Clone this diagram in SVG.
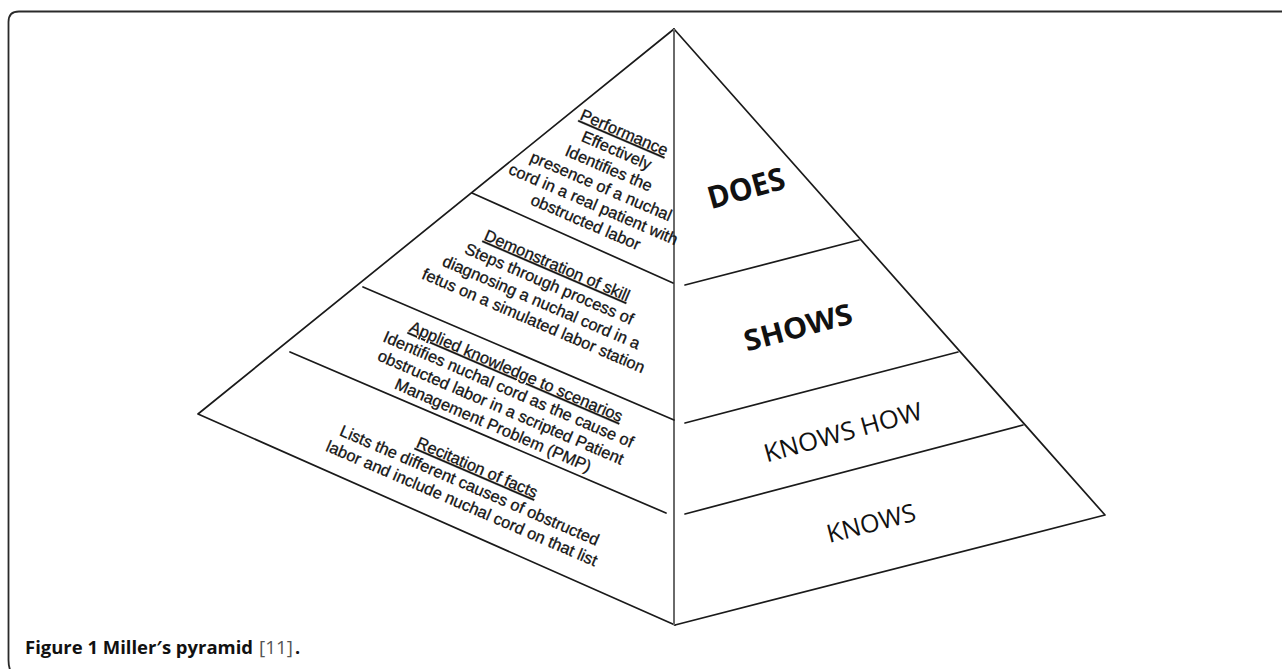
<svg xmlns="http://www.w3.org/2000/svg" width="1282" height="669" viewBox="0 0 1282 669">
<style>
.ln{fill:none;stroke:#1a1a1a;stroke-width:1.7;stroke-linecap:round;stroke-linejoin:round}
.mid{fill:none;stroke:#6a6a6a;stroke-width:2}
.frame{fill:none;stroke:#2a2a2a;stroke-width:1.8}
.lt{font-family:"Liberation Sans",Arial,sans-serif;font-size:16.4px;fill:#141414;stroke:#141414;stroke-width:0.3;text-anchor:middle}
.u{text-decoration:underline}
.rb{font-family:"Open Sans","Noto Sans",sans-serif;font-weight:bold;fill:#111;text-anchor:middle}
.rr{font-family:"Open Sans","Noto Sans",sans-serif;fill:#111;text-anchor:middle}
.cap{font-family:"Open Sans","Noto Sans",sans-serif;font-size:18px}
</style>
<rect width="1282" height="669" fill="#fff"/>
<path class="frame" d="M1290 11.5 H19 Q8.5 11.5 8.5 22 V660 Q8.5 667 11 672"/>

<g id="connectors">
  <path class="ln" d="M674 29 L198 414 L675 625"/>
  <path class="ln" d="M674 29 L1105 515 L675 625"/>
  <path class="mid" d="M674 29 V625"/>
  <path class="ln" d="M472 193 L673 283"/>
  <path class="ln" d="M363 287 L674 420"/>
  <path class="ln" d="M290 352 L666 513"/>
  <path class="ln" d="M685 285 L859 240"/>
  <path class="ln" d="M685 423 L958 352"/>
  <path class="ln" d="M685 514 L1023 425"/>
</g>

<g id="performance" transform="translate(624,133) rotate(23.3)">
  <text class="lt u" x="0" y="5">Performance</text>
  <text class="lt" x="0" y="24.5">Effectively</text>
  <text class="lt" x="0" y="44">Identifies the</text>
  <text class="lt" x="0" y="63.5">presence of a nuchal</text>
  <text class="lt" x="0" y="83">cord in a real patient with</text>
  <text class="lt" x="0" y="102.5">obstructed labor</text>
</g>

<g id="demonstration" transform="translate(557,266) rotate(23.3)">
  <text class="lt u" x="0" y="5">Demonstration of skill</text>
  <text class="lt" x="0" y="25">Steps through process of</text>
  <text class="lt" x="0" y="45">diagnosing a nuchal cord in a</text>
  <text class="lt" x="0" y="65">fetus on a simulated labor station</text>
</g>

<g id="applied" transform="translate(516,372) rotate(23.3)">
  <text class="lt u" x="0" y="5">Applied knowledge to scenarios</text>
  <text class="lt" x="0" y="24.5">Identifies nuchal cord as the cause of</text>
  <text class="lt" x="0" y="44">obstructed labor in a scripted Patient</text>
  <text class="lt" x="0" y="63.5">Management Problem (PMP)</text>
</g>

<g id="recitation" transform="translate(477,468) rotate(23.3)">
  <text class="lt u" x="0" y="5">Recitation of facts</text>
  <text class="lt" x="0" y="24.5">Lists the different causes of obstructed</text>
  <text class="lt" x="0" y="44">labor and include nuchal cord on that list</text>
</g>

<g id="does" transform="translate(746,188) rotate(-15.5)">
  <text class="rb" x="0" y="11" font-size="31" textLength="79" lengthAdjust="spacingAndGlyphs">DOES</text>
</g>
<g id="shows" transform="translate(798,327) rotate(-15)">
  <text class="rb" x="0" y="10.5" font-size="29" textLength="111" lengthAdjust="spacingAndGlyphs">SHOWS</text>
</g>
<g id="knowshow" transform="translate(843,432) rotate(-15.5)">
  <text class="rr" x="0" y="9" font-size="25" textLength="163" lengthAdjust="spacingAndGlyphs">KNOWS HOW</text>
</g>
<g id="knows" transform="translate(871,523) rotate(-14.5)">
  <text class="rr" x="0" y="9" font-size="25" textLength="91" lengthAdjust="spacingAndGlyphs">KNOWS</text>
</g>

<g id="caption">
  <text class="cap" x="25" y="654" font-weight="bold" fill="#111" textLength="228" lengthAdjust="spacingAndGlyphs">Figure 1 Miller′s pyramid</text>
  <text class="cap" x="259" y="654" fill="#555" textLength="34" lengthAdjust="spacingAndGlyphs">[11]</text>
  <text class="cap" x="295" y="654" font-weight="bold" fill="#111">.</text>
</g>
</svg>
